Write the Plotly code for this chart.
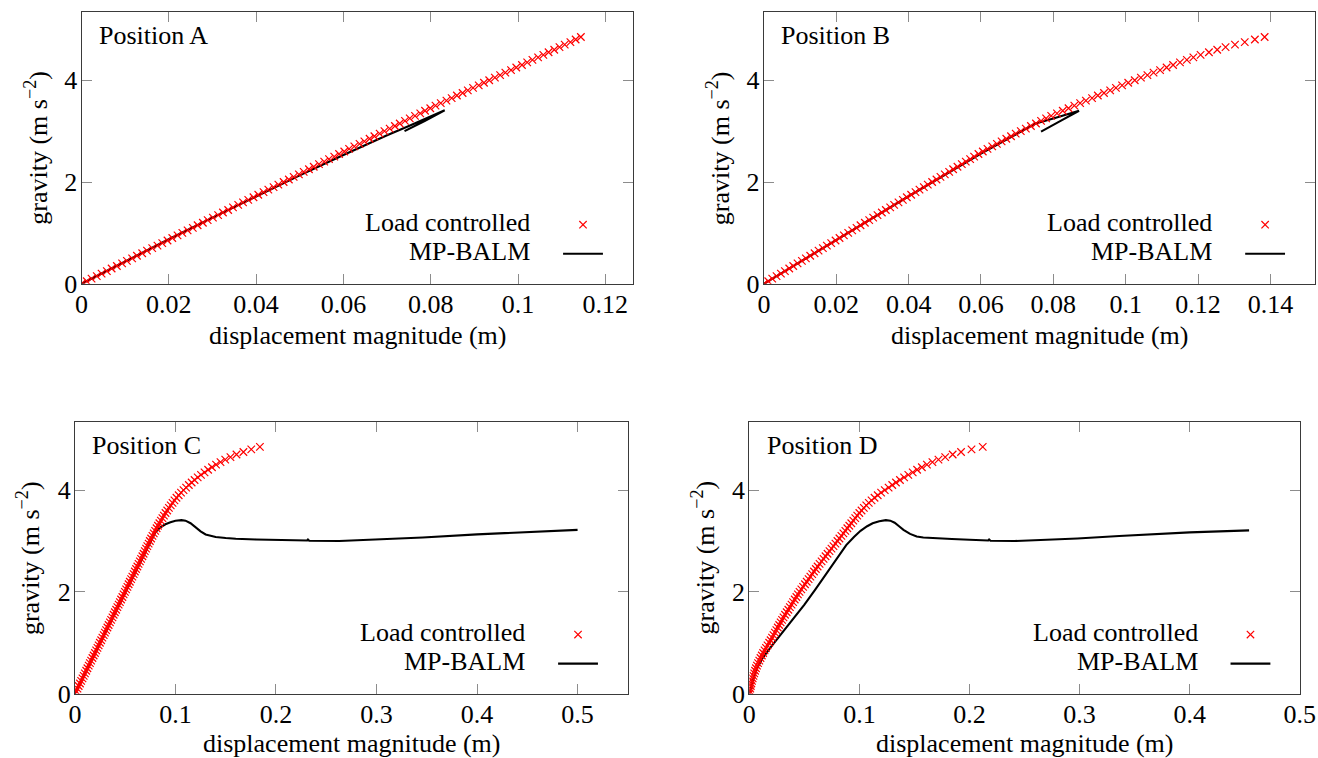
import plotly.graph_objects as go

# canvas size and the mapping from target picture pixels to canvas pixels
W, H = 1334, 775
SX, OX = 0.9865, 4.5
SY = 0.979
FONT = "Liberation Serif"
FS = 26

# load steps of the load-controlled runs (m s^-2)
gravity_steps = [
    0.00, 0.05, 0.10, 0.15, 0.20, 0.25, 0.30, 0.35, 0.40, 0.45,
    0.50, 0.55, 0.60, 0.65, 0.70, 0.75, 0.80, 0.85, 0.90, 0.95,
    1.00, 1.05, 1.10, 1.15, 1.20, 1.25, 1.30, 1.35, 1.40, 1.45,
    1.50, 1.55, 1.60, 1.65, 1.70, 1.75, 1.80, 1.85, 1.90, 1.95,
    2.00, 2.05, 2.10, 2.15, 2.20, 2.25, 2.30, 2.35, 2.40, 2.45,
    2.50, 2.55, 2.60, 2.65, 2.70, 2.75, 2.80, 2.85, 2.90, 2.95,
    3.00, 3.05, 3.10, 3.15, 3.20, 3.25, 3.30, 3.35, 3.40, 3.45,
    3.50, 3.55, 3.60, 3.65, 3.70, 3.75, 3.80, 3.85, 3.90, 3.95,
    4.00, 4.05, 4.10, 4.15, 4.20, 4.25, 4.30, 4.35, 4.40, 4.45,
    4.50, 4.55, 4.60, 4.65, 4.70, 4.75, 4.80, 4.85,
]

# displacement magnitude at each load step (m)
load_disp_A = [
    0.0000, 0.0012, 0.0023, 0.0035, 0.0046, 0.0058, 0.0069, 0.0081, 0.0093, 0.0104,
    0.0116, 0.0127, 0.0139, 0.0150, 0.0162, 0.0174, 0.0185, 0.0197, 0.0208, 0.0220,
    0.0231, 0.0243, 0.0255, 0.0266, 0.0278, 0.0289, 0.0301, 0.0313, 0.0324, 0.0336,
    0.0347, 0.0359, 0.0370, 0.0382, 0.0394, 0.0405, 0.0417, 0.0428, 0.0440, 0.0451,
    0.0463, 0.0475, 0.0486, 0.0498, 0.0509, 0.0521, 0.0532, 0.0544, 0.0556, 0.0567,
    0.0579, 0.0590, 0.0602, 0.0613, 0.0625, 0.0637, 0.0648, 0.0660, 0.0671, 0.0683,
    0.0694, 0.0706, 0.0718, 0.0729, 0.0741, 0.0752, 0.0764, 0.0776, 0.0787, 0.0799,
    0.0811, 0.0823, 0.0836, 0.0848, 0.0860, 0.0873, 0.0885, 0.0897, 0.0910, 0.0922,
    0.0934, 0.0947, 0.0959, 0.0971, 0.0984, 0.0996, 0.1009, 0.1021, 0.1033, 0.1046,
    0.1058, 0.1070, 0.1083, 0.1095, 0.1107, 0.1120, 0.1132, 0.1144,
]
load_disp_B = [
    0.0000, 0.0012, 0.0023, 0.0035, 0.0047, 0.0058, 0.0070, 0.0081, 0.0093, 0.0105,
    0.0116, 0.0128, 0.0140, 0.0151, 0.0163, 0.0174, 0.0186, 0.0198, 0.0209, 0.0221,
    0.0233, 0.0244, 0.0256, 0.0267, 0.0279, 0.0291, 0.0302, 0.0314, 0.0326, 0.0337,
    0.0349, 0.0360, 0.0372, 0.0384, 0.0395, 0.0407, 0.0419, 0.0430, 0.0442, 0.0453,
    0.0465, 0.0477, 0.0488, 0.0500, 0.0512, 0.0523, 0.0535, 0.0547, 0.0558, 0.0570,
    0.0581, 0.0593, 0.0605, 0.0618, 0.0631, 0.0644, 0.0657, 0.0670, 0.0683, 0.0696,
    0.0710, 0.0724, 0.0738, 0.0752, 0.0766, 0.0780, 0.0794, 0.0810, 0.0826, 0.0842,
    0.0858, 0.0874, 0.0890, 0.0907, 0.0923, 0.0940, 0.0957, 0.0973, 0.0990, 0.1007,
    0.1025, 0.1042, 0.1060, 0.1077, 0.1095, 0.1113, 0.1131, 0.1150, 0.1169, 0.1187,
    0.1207, 0.1230, 0.1253, 0.1276, 0.1302, 0.1329, 0.1357, 0.1384,
]
load_disp_C = [
    0.0000, 0.0012, 0.0025, 0.0037, 0.0050, 0.0062, 0.0075, 0.0087, 0.0099, 0.0112,
    0.0124, 0.0137, 0.0149, 0.0161, 0.0174, 0.0186, 0.0199, 0.0211, 0.0224, 0.0236,
    0.0248, 0.0261, 0.0273, 0.0286, 0.0298, 0.0310, 0.0323, 0.0335, 0.0348, 0.0360,
    0.0373, 0.0385, 0.0397, 0.0410, 0.0422, 0.0435, 0.0447, 0.0459, 0.0472, 0.0484,
    0.0497, 0.0509, 0.0522, 0.0534, 0.0546, 0.0559, 0.0571, 0.0584, 0.0596, 0.0608,
    0.0621, 0.0633, 0.0646, 0.0658, 0.0671, 0.0683, 0.0695, 0.0708, 0.0720, 0.0733,
    0.0745, 0.0758, 0.0771, 0.0784, 0.0798, 0.0812, 0.0826, 0.0840, 0.0855, 0.0870,
    0.0885, 0.0901, 0.0918, 0.0935, 0.0953, 0.0971, 0.0990, 0.1010, 0.1032, 0.1055,
    0.1080, 0.1106, 0.1133, 0.1161, 0.1190, 0.1221, 0.1254, 0.1289, 0.1325, 0.1363,
    0.1404, 0.1448, 0.1495, 0.1547, 0.1607, 0.1676, 0.1754, 0.1840,
]
load_disp_D = [
    0.0000, 0.0004, 0.0008, 0.0013, 0.0018, 0.0024, 0.0030, 0.0037, 0.0044, 0.0052,
    0.0060, 0.0069, 0.0079, 0.0090, 0.0101, 0.0113, 0.0125, 0.0138, 0.0151, 0.0165,
    0.0180, 0.0193, 0.0206, 0.0219, 0.0232, 0.0245, 0.0258, 0.0271, 0.0284, 0.0297,
    0.0310, 0.0324, 0.0339, 0.0354, 0.0368, 0.0383, 0.0397, 0.0412, 0.0427, 0.0441,
    0.0456, 0.0472, 0.0488, 0.0505, 0.0521, 0.0538, 0.0554, 0.0571, 0.0587, 0.0604,
    0.0620, 0.0638, 0.0656, 0.0674, 0.0692, 0.0710, 0.0728, 0.0746, 0.0764, 0.0782,
    0.0800, 0.0818, 0.0836, 0.0854, 0.0872, 0.0890, 0.0908, 0.0926, 0.0944, 0.0962,
    0.0980, 0.0999, 0.1019, 0.1040, 0.1062, 0.1085, 0.1110, 0.1137, 0.1166, 0.1197,
    0.1230, 0.1265, 0.1298, 0.1332, 0.1368, 0.1406, 0.1444, 0.1484, 0.1524, 0.1567,
    0.1613, 0.1663, 0.1718, 0.1779, 0.1847, 0.1923, 0.2018, 0.2120,
]

# MP-BALM equilibrium paths
balm_disp_A = [0.0, 0.01, 0.02, 0.03, 0.04, 0.05, 0.06, 0.065, 0.07, 0.075, 0.08, 0.0832, 0.0786, 0.074]
balm_grav_A = [0.0, 0.44, 0.875, 1.30, 1.72, 2.13, 2.53, 2.73, 2.92, 3.10, 3.29, 3.41, 3.20, 3.00]

balm_disp_B = [0.0, 0.02, 0.04, 0.06, 0.065, 0.07, 0.0751, 0.08, 0.0871, 0.082, 0.0766]
balm_grav_B = [0.0, 0.86, 1.72, 2.56, 2.76, 2.95, 3.15, 3.25, 3.40, 3.20, 2.99]

balm_disp_C = [0.0, 0.025, 0.05, 0.07, 0.075, 0.08, 0.085, 0.09, 0.095, 0.10, 0.106, 0.11,
               0.115, 0.12, 0.125, 0.13, 0.135, 0.14, 0.15, 0.16, 0.18, 0.20, 0.231,
               0.2318, 0.233, 0.263, 0.30, 0.346, 0.40, 0.451, 0.50]
balm_grav_C = [0.0, 1.0, 2.0, 2.80, 3.00, 3.17, 3.27, 3.33, 3.37, 3.40, 3.41, 3.40,
               3.35, 3.27, 3.19, 3.13, 3.10, 3.08, 3.06, 3.045, 3.03, 3.02, 3.01,
               3.03, 3.005, 3.00, 3.03, 3.07, 3.13, 3.18, 3.22]

balm_disp_D = [0.0, 0.003, 0.007, 0.012, 0.02, 0.03, 0.04, 0.05, 0.06, 0.07, 0.08, 0.088,
               0.095, 0.101, 0.107, 0.112, 0.118, 0.124, 0.128, 0.132, 0.136, 0.14, 0.146,
               0.152, 0.158, 0.17, 0.184, 0.20, 0.217, 0.2178, 0.219, 0.241, 0.27, 0.298,
               0.336, 0.40, 0.454]
balm_grav_D = [0.0, 0.25, 0.50, 0.70, 0.93, 1.20, 1.48, 1.75, 2.05, 2.36, 2.68, 2.92,
               3.08, 3.20, 3.29, 3.35, 3.39, 3.41, 3.40, 3.36, 3.29, 3.22, 3.14,
               3.09, 3.07, 3.05, 3.04, 3.025, 3.01, 3.03, 3.005, 3.00, 3.02, 3.05,
               3.10, 3.17, 3.21]

panel_names = ["Position A", "Position B", "Position C", "Position D"]
x_ranges = [[0, 0.1263], [0, 0.1523], [0, 0.55], [0, 0.5005]]
x_dticks = [0.02, 0.02, 0.1, 0.1]
y_range = [0, 5.335]

# plot-area boxes: left, right, top, bottom
boxes = [
    (79.3, 632.7, 12.3, 283.3),
    (764.3, 1317.4, 12.3, 283.3),
    (72.7, 627.7, 421.5, 692.5),
    (749.7, 1302.7, 421.5, 692.5),
]
# centre of the x-axis title
xtitle_y = [335.0, 335.0, 742.0, 742.0]

load_series = [load_disp_A, load_disp_B, load_disp_C, load_disp_D]
balm_series = [(balm_disp_A, balm_grav_A), (balm_disp_B, balm_grav_B),
               (balm_disp_C, balm_grav_C), (balm_disp_D, balm_grav_D)]


def px(x):
    return (x - OX) / SX / W


def py(y):
    return 1 - y / SY / H


fig = go.Figure()
annotations = []
shapes = []
text_font = dict(family=FONT, size=FS, color="black")

for i in range(4):
    n = "" if i == 0 else str(i + 1)
    xa, ya = "x" + n, "y" + n
    left, right, top, bottom = boxes[i]
    bd, bg = balm_series[i]

    fig.add_trace(go.Scatter(
        x=bd, y=bg, mode="lines", xaxis=xa, yaxis=ya,
        line=dict(color="black", width=2.1), showlegend=False, name="MP-BALM"))
    fig.add_trace(go.Scatter(
        x=load_series[i], y=gravity_steps, mode="markers", xaxis=xa, yaxis=ya,
        marker=dict(symbol="x-thin", size=7.5, color="red",
                    line=dict(color="red", width=1.2)),
        showlegend=False, name="Load controlled"))

    axis_common = dict(
        showline=True, linecolor="#3a3a3a", linewidth=1.2, mirror="ticks",
        ticks="inside", ticklen=10, tickwidth=1, tickcolor="#8c8c8c",
        showgrid=False, zeroline=False, tickfont=text_font,
    )
    fig.layout["xaxis" + n] = dict(
        axis_common, domain=[px(left), px(right)], range=x_ranges[i],
        tick0=0, dtick=x_dticks[i], anchor=ya, ticklabelstandoff=-3)
    fig.layout["yaxis" + n] = dict(
        axis_common, domain=[py(bottom), py(top)], range=y_range,
        tick0=0, dtick=2, anchor=xa, ticklabelstandoff=-2)

    # panel label
    annotations.append(dict(
        text=panel_names[i], x=px(left + 15.5), y=py(top + 23),
        xref="paper", yref="paper", xanchor="left", yanchor="middle",
        showarrow=False, font=text_font))
    # axis titles
    annotations.append(dict(
        text="displacement magnitude (m)", x=px((left + right) / 2),
        y=py(xtitle_y[i]), xref="paper", yref="paper",
        xanchor="center", yanchor="middle", showarrow=False, font=text_font))
    annotations.append(dict(
        text="gravity (m s<sup>−2</sup>)", x=px(left - 46),
        y=py((top + bottom) / 2), xref="paper", yref="paper",
        xanchor="center", yanchor="middle", textangle=-90,
        showarrow=False, font=text_font))

    # legend
    y_lc, y_mp = bottom - 59, bottom - 30
    annotations.append(dict(
        text="Load controlled", x=px(right - 101), y=py(y_lc - 2),
        xref="paper", yref="paper", xanchor="right", yanchor="middle",
        showarrow=False, font=text_font))
    annotations.append(dict(
        text="MP-BALM", x=px(right - 101), y=py(y_mp - 2),
        xref="paper", yref="paper", xanchor="right", yanchor="middle",
        showarrow=False, font=text_font))
    mx, h = right - 50, 3.7
    for dy in (-h, h):
        shapes.append(dict(
            type="line", xref="paper", yref="paper",
            x0=px(mx - h), x1=px(mx + h), y0=py(y_lc - dy), y1=py(y_lc + dy),
            line=dict(color="red", width=1.2)))
    shapes.append(dict(
        type="line", xref="paper", yref="paper",
        x0=px(right - 70), x1=px(right - 30), y0=py(y_mp), y1=py(y_mp),
        line=dict(color="black", width=2.1)))

fig.update_layout(
    width=W, height=H, margin=dict(l=0, r=0, t=0, b=0),
    paper_bgcolor="white", plot_bgcolor="white",
    font=text_font, showlegend=False,
    annotations=annotations, shapes=shapes,
)

fig.write_html("out.html")
